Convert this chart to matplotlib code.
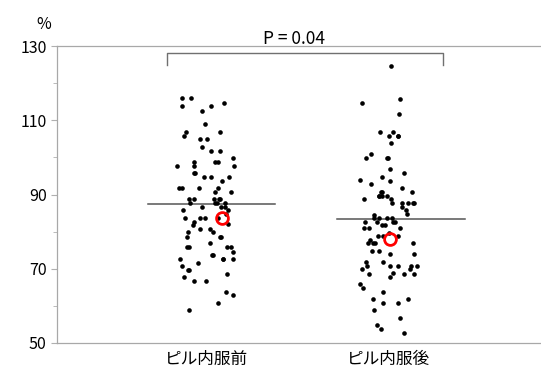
import numpy as np
import matplotlib
matplotlib.use("Agg")
import matplotlib.pyplot as plt

plt.rcParams['font.family'] = ['Noto Sans CJK JP', 'DejaVu Sans']

# 値（%）を図から読み取り
groups = ['ピル内服前', 'ピル内服後']
before = [115.9, 115.9, 114.7, 113.8, 113.8, 112.6, 108.9, 106.8, 106.8, 105.7,
          104.9, 104.9, 102.7, 101.7, 101.7, 99.8, 98.8, 98.8, 98.8, 97.7,
          97.7, 97.7, 95.9, 95.9, 94.8, 94.8, 94.8, 93.7, 91.8, 91.8,
          91.8, 91.8, 90.7, 90.7, 88.8, 88.8, 88.8, 88.8, 88.8, 87.7,
          87.7, 87.7, 87.7, 86.7, 86.7, 86.7, 85.8, 85.8, 84.8, 83.8,
          83.8, 83.8, 83.8, 82.7, 82.1, 81.8, 80.8, 80.8, 79.8, 79.8,
          78.6, 78.6, 78.6, 76.9, 75.8, 75.8, 75.8, 75.8, 74.6, 73.8,
          73.8, 72.7, 72.7, 72.7, 72.7, 71.6, 70.7, 69.7, 69.7, 68.7,
          67.7, 66.8, 66.8, 63.7, 62.9, 60.8, 58.8]
after = [124.7, 115.8, 114.7, 111.8, 106.8, 106.8, 105.8, 105.8, 105.8, 103.8,
         100.9, 99.8, 99.8, 99.8, 96.8, 95.9, 94.7, 93.8, 93.6, 92.9,
         91.8, 90.8, 90.8, 90.8, 89.6, 89.6, 89.6, 89.6, 88.8, 88.8,
         87.8, 87.8, 87.8, 87.8, 87.8, 86.6, 85.9, 84.8, 84.5, 83.8,
         83.8, 83.8, 83.8, 82.7, 82.7, 82.7, 82.7, 81.8, 81.8, 80.9,
         80.9, 80.9, 79.7, 78.7, 78.7, 78.7, 77.8, 76.9, 76.9, 76.9,
         76.9, 74.8, 74.7, 74.0, 73.9, 71.8, 71.8, 70.7, 70.7, 70.7,
         70.7, 70.7, 69.9, 69.9, 68.8, 68.7, 68.7, 68.7, 67.7, 65.8,
         64.8, 63.7, 61.9, 61.9, 60.8, 60.8, 58.9, 56.8, 54.8, 53.9,
         52.8]
mean_line = [87.4, 83.5]
highlight = [83.6, 78.0]
p_text = 'P = 0.04'

fig = plt.figure(figsize=(5.41, 3.72), dpi=100)
ax = fig.add_axes([0.1054, 0.078, 0.8946, 0.798])

rng = np.random.default_rng(3)
for i, vals in enumerate([before, after]):
    xs = i + rng.uniform(-0.16, 0.16, len(vals))
    ax.scatter(xs, vals, s=11, color='black', zorder=3, linewidths=0)

# 平均の横線
line_off = [0.03, 1.07]
for c, m in zip(line_off, mean_line):
    ax.plot([c - 0.35, c + 0.35], [m, m], color='#555555', lw=1.1, zorder=2)

# 赤丸
ax.plot([0.087, 1.01], highlight, 'o', ms=8.5, mfc='none', mec='red', mew=2, ls='none', zorder=4)

# P値のブラケット
ax.plot([-0.215, -0.215, 1.302, 1.302], [124.9, 128.1, 128.1, 124.9], color='#707070', lw=1)
ax.text(0.483, 129.6, p_text, ha='center', va='bottom', fontsize=12.5)

ax.set_xlim(-0.819, 1.84)
ax.set_ylim(50, 130)
ax.set_xticks([0, 1])
ax.set_xticklabels(groups, fontsize=12)
ax.set_yticks([50, 70, 90, 110, 130])
ax.set_yticks([60, 80, 100, 120], minor=True)
ax.tick_params(axis='y', labelsize=11.5, colors='#b0b0b0', labelcolor='black', length=4, width=0.8)
ax.tick_params(axis='y', which='minor', length=3, colors='#b0b0b0')
ax.tick_params(axis='x', length=0, pad=6)
ax.spines['right'].set_visible(False)
for s in ['left', 'top', 'bottom']:
    ax.spines[s].set_color('#a8a8a8')
    ax.spines[s].set_linewidth(0.9)

fig.text(0.08, 0.935, '%', fontsize=11.5, ha='center', va='center')

fig.savefig('out.png', dpi=100)
